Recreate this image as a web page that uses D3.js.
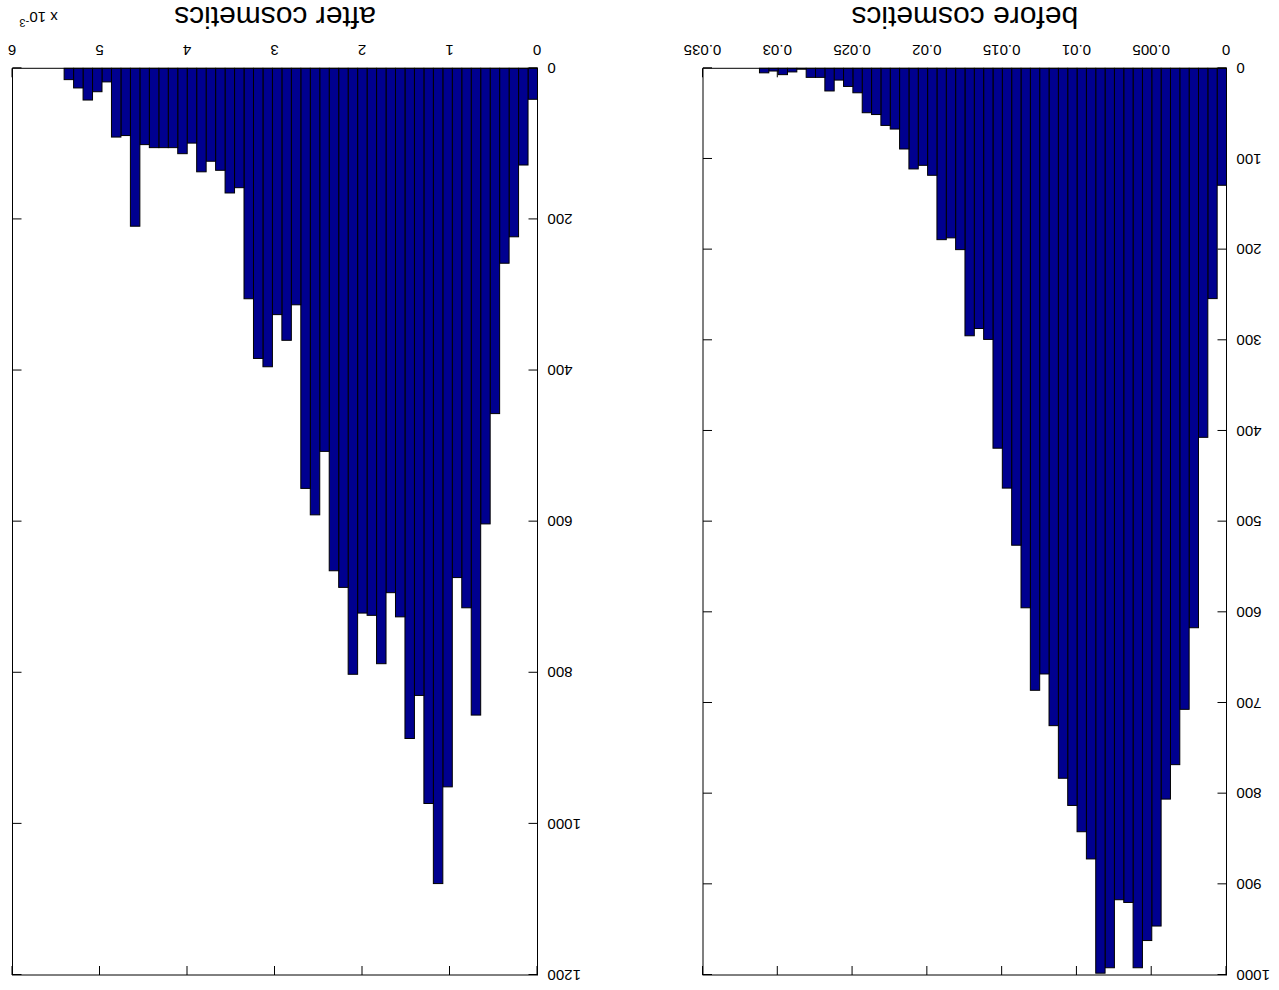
<!DOCTYPE html>
<html>
<head>
<meta charset="utf-8">
<script src="https://cdn.jsdelivr.net/npm/d3@7/dist/d3.min.js"></script>
<style>
  html, body { margin: 0; padding: 0; background: #fff; }
  svg { display: block; }
  text { font-family: "Liberation Sans", Arial, Helvetica, sans-serif; fill: #000; }
</style>
</head>
<body>
<svg id="fig" width="1279" height="990"></svg>
<script>
// Histogram counts, 50 equal-width bins starting at 0 (lowest bin first)
const beforeCounts = [129, 254, 407, 617, 707, 768, 806, 946, 962, 992,
                      920, 917, 992, 998, 872, 842, 813, 783, 725, 668,
                      686, 595, 526, 463, 419, 299, 287, 295, 200, 187,
                      189, 118, 107, 111, 89, 67, 63, 51, 49, 27,
                      20, 13, 25, 10, 10, 1, 4, 7, 3, 5];
const beforeBinWidth = 0.0006245;

// x values of the second histogram are in units of 1e-3
const afterCounts = [41, 128, 223, 258, 457, 603, 856, 714, 674, 951,
                     1079, 973, 830, 887, 726, 694, 788, 724, 721, 802,
                     687, 665, 507, 591, 556, 313, 360, 326, 395, 384,
                     305, 158, 165, 135, 123, 137, 99, 113, 105, 105,
                     105, 101, 209, 89, 91, 18, 31, 42, 26, 15];
const afterBinWidth = 0.1082;

const beforeXTicks = [0, 0.005, 0.01, 0.015, 0.02, 0.025, 0.03, 0.035];
const beforeYTicks = [0, 100, 200, 300, 400, 500, 600, 700, 800, 900, 1000];
const afterXTicks = [0, 1, 2, 3, 4, 5, 6];
const afterYTicks = [0, 200, 400, 600, 800, 1000, 1200];

const titles = ["before cosmetics", "after cosmetics"];

const W = 1279, H = 990;
const svg = d3.select("#fig");
svg.append("rect").attr("width", W).attr("height", H).attr("fill", "#fff");

// the whole figure is shown turned by half a turn
const fig = svg.append("g").attr("transform", `rotate(180 ${W / 2} ${H / 2})`);

const plotTop = 15, plotBottom = 921.7;
const panels = [
  { left: 52.5, right: 576, xMax: 0.035, yMax: 1000, counts: beforeCounts, bw: beforeBinWidth,
    xTicks: beforeXTicks, yTicks: beforeYTicks, title: titles[0] },
  { left: 741.5, right: 1266.5, xMax: 6, yMax: 1200, counts: afterCounts, bw: afterBinWidth,
    xTicks: afterXTicks, yTicks: afterYTicks, title: titles[1], exponent: true }
];

const tickLen = 9;
const fontSize = 15;

panels.forEach(p => {
  const x = d3.scaleLinear().domain([0, p.xMax]).range([p.left, p.right]);
  const y = d3.scaleLinear().domain([0, p.yMax]).range([plotBottom, plotTop]);
  const g = fig.append("g");

  // inward ticks on all four sides, labels on bottom and left
  const axB = d3.axisBottom(x).tickValues(p.xTicks).tickFormat(d => String(d))
    .tickSizeInner(-tickLen).tickSizeOuter(0).tickPadding(13);
  const axT = d3.axisTop(x).tickValues(p.xTicks).tickFormat("")
    .tickSizeInner(-tickLen).tickSizeOuter(0);
  const axL = d3.axisLeft(y).tickValues(p.yTicks).tickFormat(d => String(d))
    .tickSizeInner(-tickLen).tickSizeOuter(0).tickPadding(10);
  const axR = d3.axisRight(y).tickValues(p.yTicks).tickFormat("")
    .tickSizeInner(-tickLen).tickSizeOuter(0);

  const styleAxis = sel => {
    sel.select(".domain").remove();
    sel.selectAll("line").attr("stroke", "#000").attr("stroke-width", 1);
    sel.selectAll("text").attr("font-size", fontSize).attr("font-family", null);
  };
  g.append("g").attr("transform", `translate(0,${plotBottom})`).call(axB).call(styleAxis);
  g.append("g").attr("transform", `translate(0,${plotTop})`).call(axT).call(styleAxis);
  g.append("g").attr("transform", `translate(${p.left},0)`).call(axL).call(styleAxis);
  g.append("g").attr("transform", `translate(${p.right},0)`).call(axR).call(styleAxis);

  // histogram bars
  g.append("g").selectAll("rect").data(p.counts).join("rect")
    .attr("x", (d, i) => x(i * p.bw))
    .attr("width", (d, i) => x((i + 1) * p.bw) - x(i * p.bw))
    .attr("y", d => y(d))
    .attr("height", d => y(0) - y(d))
    .attr("fill", "#00008f")
    .attr("stroke", "#000")
    .attr("stroke-width", 1);

  // axes box
  g.append("rect")
    .attr("x", p.left).attr("y", plotTop)
    .attr("width", p.right - p.left).attr("height", plotBottom - plotTop)
    .attr("fill", "none").attr("stroke", "#000").attr("stroke-width", 1);

  // axis label
  g.append("text")
    .attr("x", (p.left + p.right) / 2).attr("y", 973)
    .attr("text-anchor", "middle").attr("dominant-baseline", "central")
    .attr("font-size", 30).text(p.title);

  // exponent of the x tick labels
  if (p.exponent) {
    const t = g.append("text")
      .attr("x", p.right - 7).attr("y", 978)
      .attr("text-anchor", "end").attr("font-size", 15);
    t.append("tspan").text("x 10");
    t.append("tspan").attr("font-size", 11).attr("dy", -7).text("-3");
  }
});
</script>
</body>
</html>
